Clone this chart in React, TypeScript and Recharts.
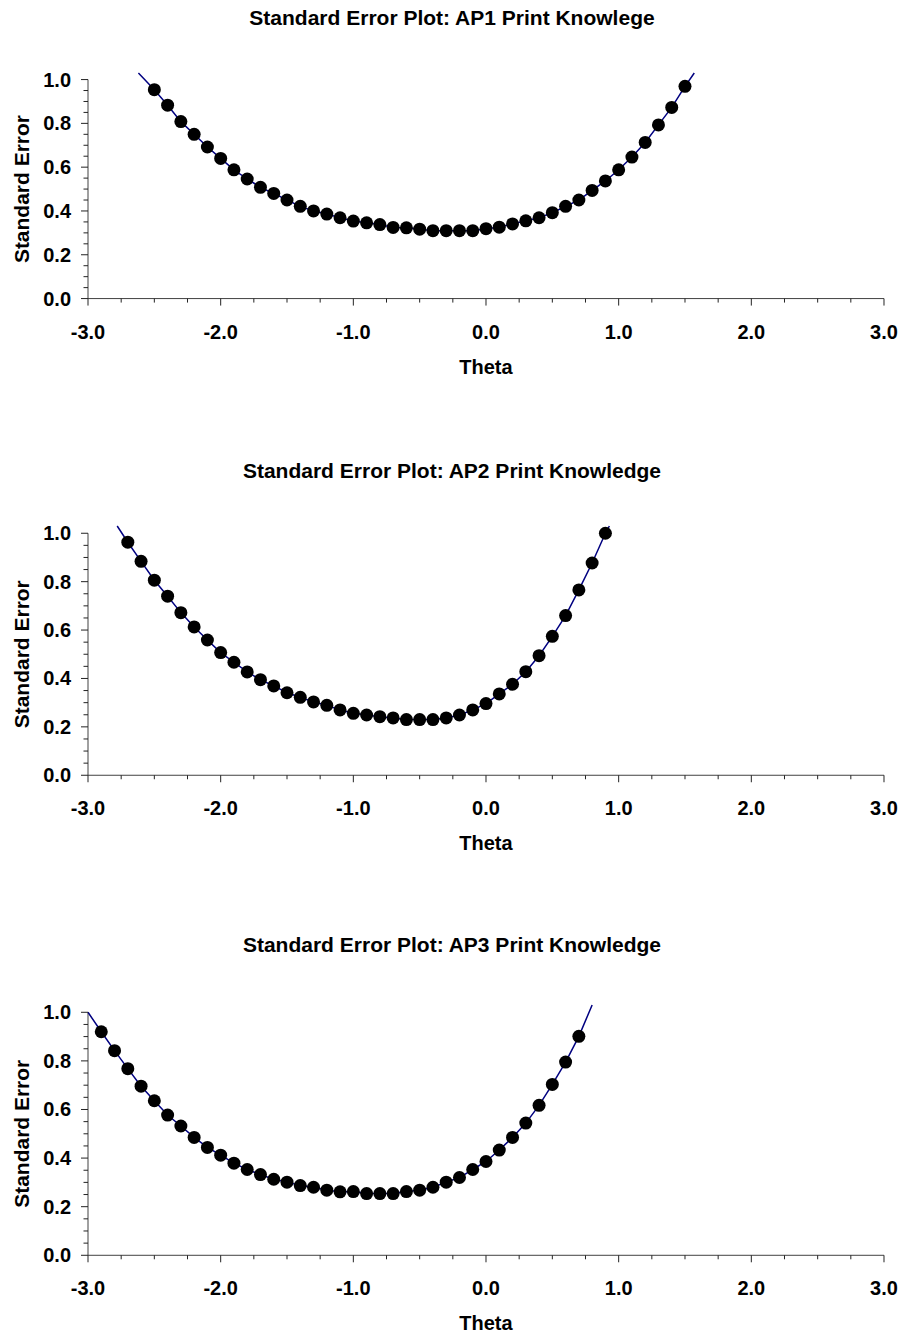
import React from "react";
import { ComposedChart, Line, Scatter, XAxis, YAxis, ReferenceLine, Label } from "recharts";

const FONT = "'Liberation Sans', Arial, sans-serif";
const WIDTH = 904;

// axis ticks (major ones get labels)
const xTicks = [-3, -2.75, -2.5, -2.25, -2, -1.75, -1.5, -1.25, -1, -0.75, -0.5, -0.25, 0, 0.25, 0.5, 0.75, 1, 1.25, 1.5, 1.75, 2, 2.25, 2.5, 2.75, 3];
const yTicks = [0, 0.05, 0.1, 0.15, 0.2, 0.25, 0.3, 0.35, 0.4, 0.45, 0.5, 0.55, 0.6, 0.65, 0.7, 0.75, 0.8, 0.85, 0.9, 0.95, 1];

// AP1
const ap1Theta = [-2.5, -2.4, -2.3, -2.2, -2.1, -2.0, -1.9, -1.8, -1.7, -1.6, -1.5, -1.4, -1.3, -1.2, -1.1, -1.0, -0.9, -0.8, -0.7, -0.6, -0.5, -0.4, -0.3, -0.2, -0.1, 0.0, 0.1, 0.2, 0.3, 0.4, 0.5, 0.6, 0.7, 0.8, 0.9, 1.0, 1.1, 1.2, 1.3, 1.4, 1.5];
const ap1SE = [0.954, 0.883, 0.808, 0.75, 0.692, 0.64, 0.588, 0.546, 0.508, 0.48, 0.45, 0.421, 0.4, 0.386, 0.369, 0.354, 0.346, 0.338, 0.325, 0.323, 0.317, 0.31, 0.31, 0.31, 0.31, 0.319, 0.326, 0.341, 0.355, 0.369, 0.392, 0.421, 0.45, 0.494, 0.537, 0.588, 0.646, 0.713, 0.793, 0.873, 0.969];
const ap1CurveTheta = [-2.62, 1.57];
const ap1CurveSE = [1.03, 1.03];

// AP2
const ap2Theta = [-2.7, -2.6, -2.5, -2.4, -2.3, -2.2, -2.1, -2.0, -1.9, -1.8, -1.7, -1.6, -1.5, -1.4, -1.3, -1.2, -1.1, -1.0, -0.9, -0.8, -0.7, -0.6, -0.5, -0.4, -0.3, -0.2, -0.1, 0.0, 0.1, 0.2, 0.3, 0.4, 0.5, 0.6, 0.7, 0.8, 0.9];
const ap2SE = [0.963, 0.884, 0.806, 0.74, 0.672, 0.613, 0.559, 0.507, 0.467, 0.427, 0.395, 0.369, 0.341, 0.322, 0.303, 0.289, 0.27, 0.256, 0.249, 0.242, 0.237, 0.23, 0.23, 0.23, 0.237, 0.249, 0.27, 0.296, 0.336, 0.376, 0.428, 0.494, 0.574, 0.66, 0.766, 0.877, 1.0];
const ap2CurveTheta = [-2.78, 0.93];
const ap2CurveSE = [1.03, 1.03];

// AP3
const ap3Theta = [-2.9, -2.8, -2.7, -2.6, -2.5, -2.4, -2.3, -2.2, -2.1, -2.0, -1.9, -1.8, -1.7, -1.6, -1.5, -1.4, -1.3, -1.2, -1.1, -1.0, -0.9, -0.8, -0.7, -0.6, -0.5, -0.4, -0.3, -0.2, -0.1, 0.0, 0.1, 0.2, 0.3, 0.4, 0.5, 0.6, 0.7];
const ap3SE = [0.92, 0.842, 0.768, 0.696, 0.636, 0.577, 0.532, 0.485, 0.444, 0.412, 0.379, 0.353, 0.332, 0.313, 0.301, 0.287, 0.28, 0.268, 0.261, 0.262, 0.254, 0.254, 0.254, 0.262, 0.268, 0.28, 0.301, 0.32, 0.353, 0.386, 0.433, 0.485, 0.544, 0.617, 0.703, 0.795, 0.901];
const ap3CurveTheta = [-3.0, 0.8];
const ap3CurveSE = [1.0, 1.03];

const toPoints = (theta: number[], se: number[]) => theta.map((t, i) => ({ theta: t, se: se[i] }));

const XTick = ({ x, y, payload }: any) => {
  const v = payload.value;
  const major = Math.abs(v - Math.round(v)) < 1e-6;
  return (
    <g>
      <line x1={x} x2={x} y1={y} y2={y + (major ? 7 : 4)} stroke="#222" />
      {major && (
        <text x={x} y={y + 40} textAnchor="middle" fontSize={20} fontWeight="bold" fontFamily={FONT} fill="#000">
          {v.toFixed(1)}
        </text>
      )}
    </g>
  );
};

const YTick = ({ x, y, payload }: any) => {
  const v = payload.value;
  const major = Math.abs(v * 5 - Math.round(v * 5)) < 1e-6;
  return (
    <g>
      <line x1={x - (major ? 7 : 4.5)} x2={x} y1={y} y2={y} stroke="#222" />
      {major && (
        <text x={x - 17} y={y + 7} textAnchor="end" fontSize={20} fontWeight="bold" fontFamily={FONT} fill="#000">
          {v.toFixed(1)}
        </text>
      )}
    </g>
  );
};

const Dot = (p: any) => <circle cx={p.cx} cy={p.cy} r={6.5} fill="#000" />;

interface SEPlotProps {
  title: string;
  theta: number[];
  se: number[];
  curveTheta: number[];
  curveSE: number[];
  titleY: number;
  axisTop: number; // page y of 1.0
  axisBottom: number; // page y of 0.0
}

function SEPlot({ title, theta, se, curveTheta, curveSE, titleY, axisTop, axisBottom }: SEPlotProps) {
  const points = toPoints(theta, se);
  const curve = [{ theta: curveTheta[0], se: curveSE[0] }, ...points, { theta: curveTheta[1], se: curveSE[1] }];
  const unit = axisBottom - axisTop;
  const plotTop = axisTop - 0.03 * unit;
  const chartTop = plotTop - 10;
  const height = axisBottom - chartTop + 80;
  const yLabelY = (axisTop + axisBottom) / 2 - chartTop;

  return (
    <>
      <div
        style={{
          position: "absolute",
          top: titleY - 12,
          left: 0,
          width: WIDTH,
          lineHeight: "24px",
          textAlign: "center",
          fontFamily: FONT,
          fontWeight: "bold",
          fontSize: 21,
          color: "#000",
        }}
      >
        {title}
      </div>
      <div style={{ position: "absolute", top: chartTop, left: 0 }}>
        <ComposedChart width={WIDTH} height={height} margin={{ top: 10, right: 20, bottom: 0, left: 0 }}>
          <XAxis
            type="number"
            dataKey="theta"
            domain={[-3, 3]}
            ticks={xTicks}
            interval={0}
            tickSize={0}
            tickMargin={0}
            tickLine={false}
            axisLine={{ stroke: "#404040" }}
            tick={<XTick />}
            height={80}
          >
            <Label
              content={({ viewBox }: any) => (
                <text
                  x={viewBox ? viewBox.x + viewBox.width / 2 : 486}
                  y={(viewBox ? viewBox.y : height - 80) + 75}
                  textAnchor="middle"
                  fontSize={20}
                  fontWeight="bold"
                  fontFamily={FONT}
                  fill="#000"
                >
                  Theta
                </text>
              )}
            />
          </XAxis>
          <YAxis
            type="number"
            dataKey="se"
            domain={[0, 1.03]}
            ticks={yTicks}
            interval={0}
            tickSize={0}
            tickMargin={0}
            tickLine={false}
            axisLine={false}
            tick={<YTick />}
            width={88}
          >
            <Label
              content={() => (
                <text
                  x={21}
                  y={yLabelY}
                  transform={`rotate(-90 21 ${yLabelY})`}
                  textAnchor="middle"
                  dominantBaseline="central"
                  fontSize={21}
                  fontWeight="bold"
                  fontFamily={FONT}
                  fill="#000"
                >
                  Standard Error
                </text>
              )}
            />
          </YAxis>
          <ReferenceLine segment={[{ x: -3, y: 0 }, { x: -3, y: 1 }]} stroke="#404040" />
          <Line
            data={curve}
            dataKey="se"
            type="linear"
            stroke="#000080"
            strokeWidth={1.5}
            dot={false}
            activeDot={false}
            isAnimationActive={false}
          />
          <Scatter data={points} dataKey="se" shape={<Dot />} isAnimationActive={false} />
        </ComposedChart>
      </div>
    </>
  );
}

export default function App() {
  return (
    <div style={{ position: "absolute", left: 0, top: 0, width: WIDTH, height: 1334, background: "#fff" }}>
      <SEPlot
        title="Standard Error Plot: AP1 Print Knowlege"
        theta={ap1Theta}
        se={ap1SE}
        curveTheta={ap1CurveTheta}
        curveSE={ap1CurveSE}
        titleY={18}
        axisTop={80}
        axisBottom={299}
      />
      <SEPlot
        title="Standard Error Plot: AP2 Print Knowledge"
        theta={ap2Theta}
        se={ap2SE}
        curveTheta={ap2CurveTheta}
        curveSE={ap2CurveSE}
        titleY={471}
        axisTop={533}
        axisBottom={775}
      />
      <SEPlot
        title="Standard Error Plot: AP3 Print Knowledge"
        theta={ap3Theta}
        se={ap3SE}
        curveTheta={ap3CurveTheta}
        curveSE={ap3CurveSE}
        titleY={945}
        axisTop={1012}
        axisBottom={1255}
      />
    </div>
  );
}
